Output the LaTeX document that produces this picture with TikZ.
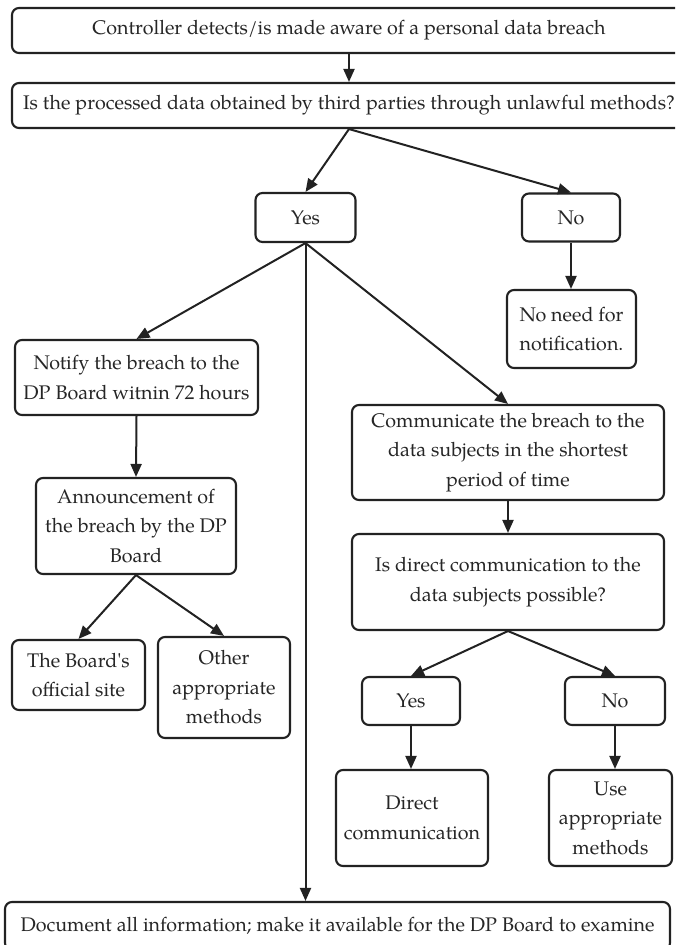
\documentclass[tikz,border=0pt]{standalone}
\usepackage{fontspec}
\setmainfont{texgyrepagella}[Extension=.otf,UprightFont=*-regular,BoldFont=*-bold,ItalicFont=*-italic,BoldItalicFont=*-bolditalic]
\usetikzlibrary{arrows.meta}
\definecolor{ink}{HTML}{222222}
\definecolor{txt}{HTML}{262626}
\tikzset{
  box/.style={draw=ink, line width=2.1pt, rounded corners=7pt, align=center, inner sep=0pt,
    font=\fontsize{19.7}{29.5}\selectfont, text=txt, fill=white},
  arr/.style={-{Triangle[length=13pt,width=11pt]}, line width=2pt, draw=ink},
}
\begin{document}
\begin{tikzpicture}[x=1pt,y=-1pt]
\useasboundingbox (0,0) rectangle (675,945);
\clip (0,0) rectangle (675,945);
\node[box, minimum width=674pt, minimum height=45pt] (top) at (349,30.5) {Controller detects/is made aware of a personal data breach};
\node[box, minimum width=674pt, minimum height=45pt] (q) at (349,105.5) {Is the processed data obtained by third parties through unlawful methods?};
\node[box, minimum width=100pt, minimum height=49pt] (yes) at (305.5,217.5) {Yes};
\node[box, minimum width=98pt, minimum height=48pt] (no) at (571,217.5) {No};
\node[box, minimum width=129pt, minimum height=78pt] (noneed) at (571.5,329) {No need for\\notification.};
\node[box, minimum width=243pt, minimum height=75pt] (notify) at (136.5,377.5) {Notify the breach to the\\DP Board witnin 72 hours};
\node[box, minimum width=312pt, minimum height=95pt] (comm) at (508,452.5) {Communicate the breach to the\\data subjects in the shortest\\period of time};
\node[box, minimum width=200pt, minimum height=96pt] (ann) at (136,526) {Announcement of\\the breach by the DP\\Board};
\node[box, minimum width=133pt, minimum height=70pt] (site) at (78.5,675) {The Board\textquotesingle s\\official site};
\node[box, minimum width=132pt, minimum height=101pt] (other) at (224,687.5) {Other\\appropriate\\methods};
\node[box, minimum width=312pt, minimum height=96pt] (direct) at (508,582) {Is direct communication to the\\data subjects possible?};
\node[box, minimum width=98pt, minimum height=48pt] (yes2) at (411,701) {Yes};
\node[box, minimum width=100pt, minimum height=48pt] (no2) at (615,701) {No};
\node[box, minimum width=152pt, minimum height=96pt] (dcomm) at (412,818) {Direct\\communication};
\node[box, minimum width=123pt, minimum height=96pt] (use) at (610.5,818) {Use\\appropriate\\methods};
\node[box, minimum width=665pt, minimum height=48pt] (doc) at (337.5,926) {Document all information; make it available for the DP Board to examine};
\draw[arr] (top.south) -- (q.north);
\draw[arr] (q.south) -- (yes.north);
\draw[arr] (q.south) -- (no.north);
\draw[arr] (no.south) -- (noneed.north -| no.south);
\draw[arr] (yes.south) -- (notify.north);
\draw[arr] (yes.south) -- (comm.north);
\draw[arr] (yes.south) -- (yes.south |- doc.north);
\draw[arr] (notify.south) -- (ann.north);
\draw[arr] (ann.south) -- (site.north);
\draw[arr] (ann.south) -- (other.north);
\draw[arr] (comm.south) -- (direct.north);
\draw[arr] (direct.south) -- (yes2.north);
\draw[arr] (direct.south) -- (no2.north);
\draw[arr] (yes2.south) -- (yes2.south |- dcomm.north);
\draw[arr] (no2.south) -- (no2.south |- use.north);
\end{tikzpicture}
\end{document}
